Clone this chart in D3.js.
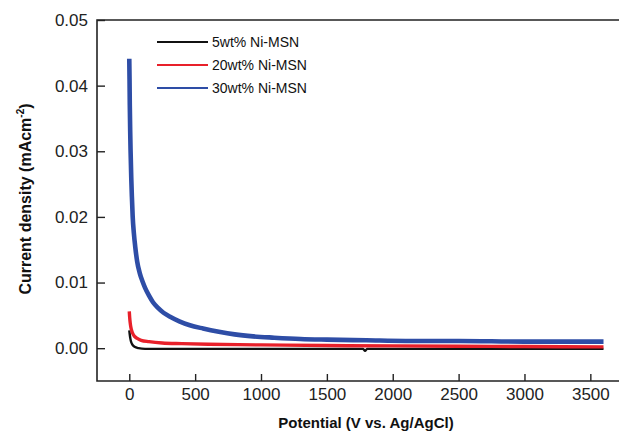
<!DOCTYPE html>
<html>
<head>
<meta charset="utf-8">
<script src="https://cdn.jsdelivr.net/npm/d3@7"></script>
<style>
  html, body { margin: 0; padding: 0; background: #fff; }
  svg { display: block; font-family: "Liberation Sans", Arial, sans-serif; }
</style>
</head>
<body>
<svg id="chart" width="619" height="432"></svg>
<script>
// ---- data ----
const seriesNames = ["5wt% Ni-MSN", "20wt% Ni-MSN", "30wt% Ni-MSN"];
const seriesColors = ["#111111", "#e8202a", "#2e4da6"];

const t5 = [0, 3, 8, 15, 25, 40, 70, 120, 300, 600, 1000, 1400, 1775, 1790, 1805, 2200, 2600, 3000, 3300, 3600];
const v5 = [0.0027, 0.0022, 0.0015, 0.0009, 0.0005, 0.0002, 0.0000, -0.0001, -0.0001, -0.0001, -0.0001, -0.0001, -0.0001, -0.0004, -0.0001, -0.0001, -0.0001, -0.0001, -0.0001, -0.0001];

const t20 = [0, 3, 8, 15, 25, 40, 60, 90, 150, 250, 400, 600, 1000, 1500, 2000, 2500, 3000, 3600];
const v20 = [0.0056, 0.0047, 0.0037, 0.0029, 0.0023, 0.0018, 0.0015, 0.0012, 0.0010, 0.0008, 0.0007, 0.0006, 0.0005, 0.0004, 0.00035, 0.0003, 0.00025, 0.0002];

const t30 = [0, 2, 4, 7, 10, 15, 20, 26, 35, 45, 60, 80, 100, 120, 150, 180, 220, 260, 310, 380, 460, 560, 680, 800, 940, 1100, 1300, 1500, 1800, 2100, 2500, 3000, 3300, 3600];
const v30 = [0.0441, 0.041, 0.037, 0.033, 0.030, 0.026, 0.023, 0.020, 0.0175, 0.0155, 0.0132, 0.0114, 0.0102, 0.0092, 0.0080, 0.0070, 0.0061, 0.0054, 0.0048, 0.0041, 0.0035, 0.0030, 0.0025, 0.0021, 0.0018, 0.0016, 0.0014, 0.0013, 0.0012, 0.0011, 0.0011, 0.0010, 0.0010, 0.0010];

const xTicks = [0, 500, 1000, 1500, 2000, 2500, 3000, 3500];
const yTicks = [0.00, 0.01, 0.02, 0.03, 0.04, 0.05];
const xTitle = "Potential (V vs. Ag/AgCl)";
const yTitle = "Current density (mAcm";

// ---- layout ----
const svg = d3.select("#chart");
const mLeft = 97, mTop = 20, mBottom = 381, mRight = 640;

const x = d3.scaleLinear().domain([-245, 3877]).range([mLeft, mRight]);
const y = d3.scaleLinear().domain([-0.005, 0.05]).range([mBottom, mTop]);

const series = [
  { name: seriesNames[0], color: seriesColors[0], w: 2.4, pts: t5.map((t, i) => [t, v5[i]]) },
  { name: seriesNames[1], color: seriesColors[1], w: 3.4, pts: t20.map((t, i) => [t, v20[i]]) },
  { name: seriesNames[2], color: seriesColors[2], w: 4.6, pts: t30.map((t, i) => [t, v30[i]]) }
];

const line = d3.line()
  .x(d => x(d[0]))
  .y(d => y(d[1]))
  .curve(d3.curveMonotoneX);

svg.append("g").selectAll("path")
  .data(series)
  .join("path")
  .attr("d", d => line(d.pts))
  .attr("fill", "none")
  .attr("stroke", d => d.color)
  .attr("stroke-width", d => d.w)
  .attr("stroke-linejoin", "round");

// ---- axes ----
const xAxis = d3.axisBottom(x).tickValues(xTicks).tickFormat(d3.format("d"))
  .tickSizeInner(-7).tickSizeOuter(0).tickPadding(7);
const gx = svg.append("g").attr("transform", `translate(0,${mBottom})`).call(xAxis);
gx.select(".domain").remove();
gx.selectAll(".tick line").attr("stroke", "#222").attr("stroke-width", 1.4);
gx.selectAll(".tick text").attr("font-size", 17).attr("fill", "#222")
  .attr("font-family", "Liberation Sans, Arial, sans-serif");

const yAxis = d3.axisLeft(y).tickValues(yTicks).tickFormat(d3.format(".2f"))
  .tickSizeInner(-8).tickSizeOuter(0).tickPadding(9);
const gy = svg.append("g").attr("transform", `translate(${mLeft},0)`).call(yAxis);
gy.select(".domain").remove();
gy.selectAll(".tick line").attr("stroke", "#222").attr("stroke-width", 1.4);
gy.selectAll(".tick text").attr("font-size", 17).attr("fill", "#222")
  .attr("font-family", "Liberation Sans, Arial, sans-serif");

// frame (right edge falls outside the picture)
svg.append("path")
  .attr("d", `M${mRight},${mTop}H${mLeft}V${mBottom}H${mRight}`)
  .attr("fill", "none")
  .attr("stroke", "#222")
  .attr("stroke-width", 1.6);

// ---- titles ----
svg.append("text")
  .attr("x", 366).attr("y", 428)
  .attr("text-anchor", "middle")
  .attr("font-size", 15).attr("font-weight", "bold").attr("fill", "#111")
  .text(xTitle);

const yt = svg.append("text")
  .attr("transform", "translate(30.5,199) rotate(-90)")
  .attr("text-anchor", "middle")
  .attr("font-size", 16).attr("font-weight", "bold").attr("fill", "#111");
yt.append("tspan").text(yTitle);
yt.append("tspan").attr("font-size", 10).attr("dy", -7).text("-2");
yt.append("tspan").attr("dy", 7).text(")");

// ---- legend ----
const lg = svg.append("g");
series.forEach((s, i) => {
  const ly = 42 + i * 23;
  lg.append("line")
    .attr("x1", 157).attr("x2", 208).attr("y1", ly).attr("y2", ly)
    .attr("stroke", s.color).attr("stroke-width", 2);
  lg.append("text")
    .attr("x", 212).attr("y", ly + 5)
    .attr("font-size", 14).attr("fill", "#111")
    .text(s.name);
});
</script>
</body>
</html>
